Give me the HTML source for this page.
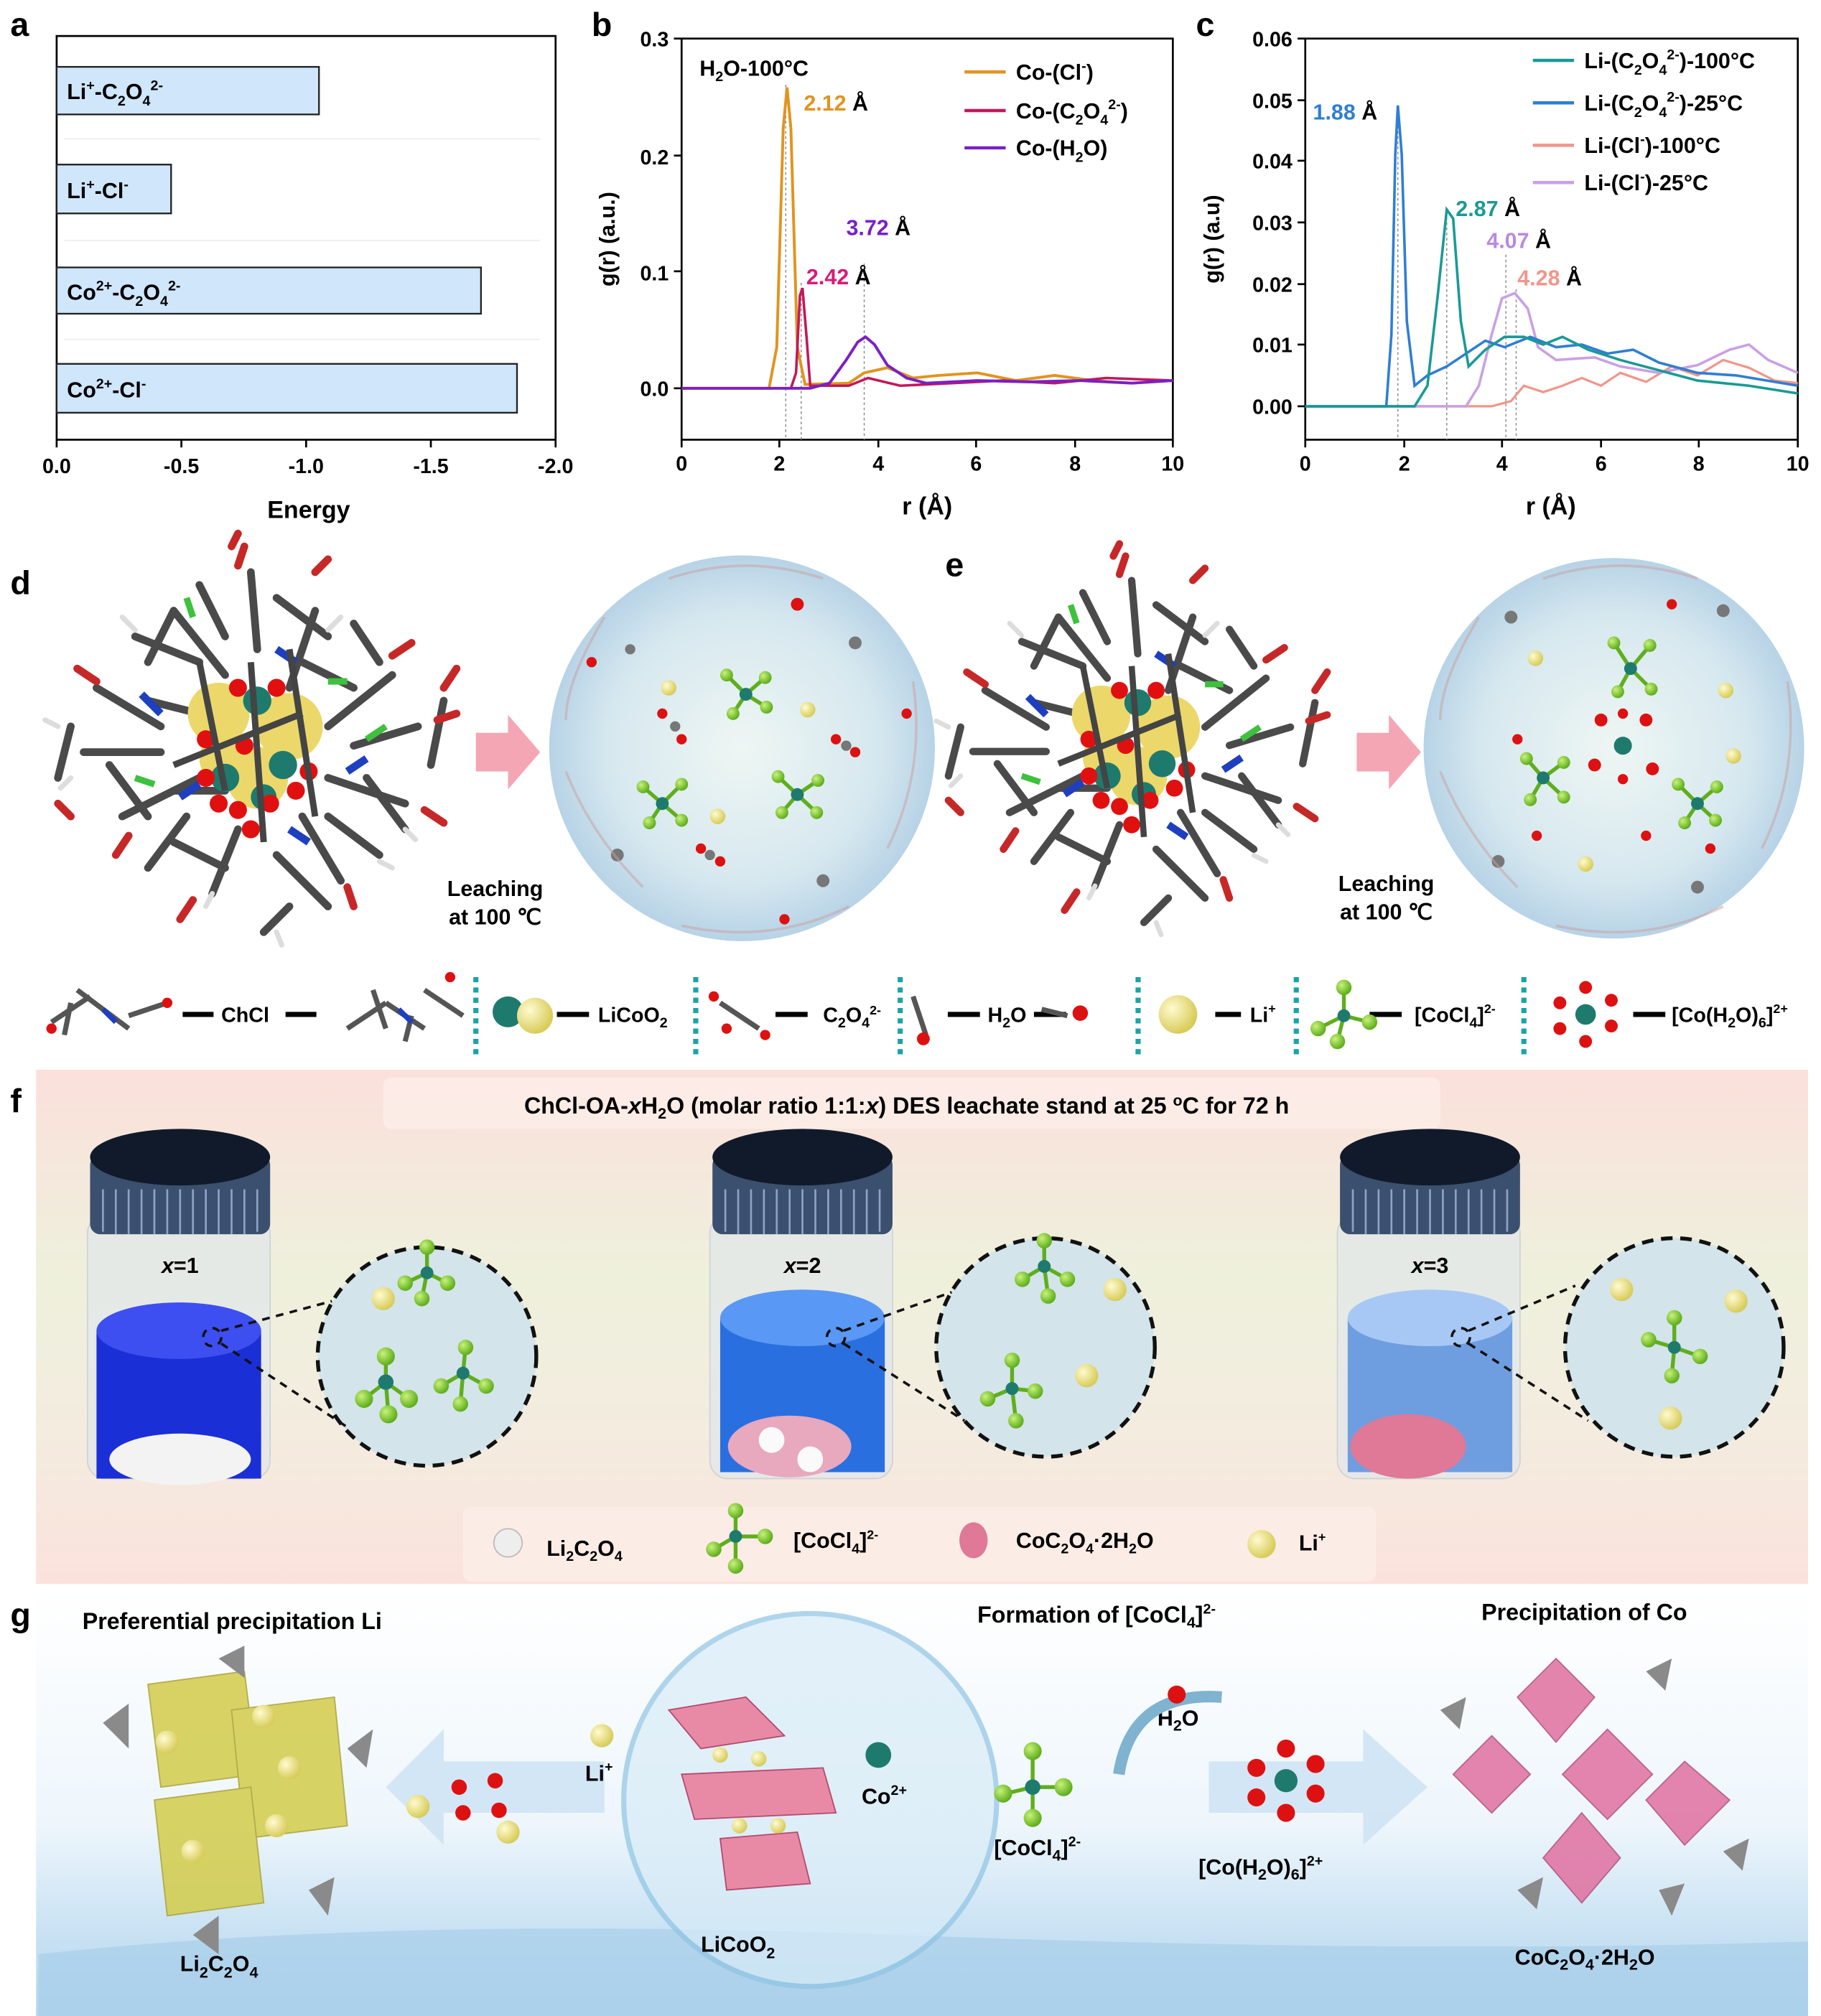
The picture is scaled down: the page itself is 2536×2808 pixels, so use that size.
<!DOCTYPE html>
<html><head><meta charset="utf-8"><style>
html,body{margin:0;padding:0;background:#fff}
svg{display:block}
text{font-family:"Liberation Sans",Arial,sans-serif;font-weight:bold}
</style></head><body>
<svg width="2536" height="2808" viewBox="0 0 1416 1568" xmlns="http://www.w3.org/2000/svg">
<defs>
<radialGradient id="bub" cx="50%" cy="50%" r="50%"><stop offset="0" stop-color="#eef6f3"/><stop offset="0.7" stop-color="#d6e8ef"/><stop offset="1" stop-color="#b7d3e6"/></radialGradient>
<linearGradient id="fbg" x1="0" y1="0" x2="0" y2="1"><stop offset="0" stop-color="#fbe0db"/><stop offset="0.4" stop-color="#eef0dc"/><stop offset="0.7" stop-color="#f3ecdf"/><stop offset="1" stop-color="#fbe2dc"/></linearGradient>
<linearGradient id="gbg" x1="0" y1="0" x2="0" y2="1"><stop offset="0" stop-color="#ffffff"/><stop offset="0.55" stop-color="#eef6fc"/><stop offset="0.8" stop-color="#c9e2f3"/><stop offset="1" stop-color="#b3d5ee"/></linearGradient>
<radialGradient id="ball" cx="35%" cy="35%" r="65%"><stop offset="0" stop-color="#fffbd0"/><stop offset="1" stop-color="#d8cc5a"/></radialGradient>
<radialGradient id="green" cx="35%" cy="35%" r="65%"><stop offset="0" stop-color="#c8f27a"/><stop offset="1" stop-color="#5fae1c"/></radialGradient>
<g id="clus">
<g stroke="#4a4a4a" stroke-width="6" stroke-linecap="round">
<path d="M-120,-40 L-70,-10 M-100,60 L-40,30 M-60,-100 L-20,-50 M50,-100 L30,-40 M110,-50 L60,-10 M120,50 L60,30 M70,110 L40,60 M-30,120 L-10,70 M-130,10 L-70,10 M0,-130 L5,-70 M130,-10 L80,5 M-80,100 L-50,60"/>
<path d="M-90,-80 L-40,-60 M-80,-60 L-60,-100 M20,-110 L60,-80 M80,-90 L100,-60 M-110,20 L-80,60 M90,30 L120,70 M-60,80 L-20,100 M20,90 L60,130 M-40,-20 L-80,-30 M40,-60 L80,-40 M60,60 L100,90 M-20,40 L-60,40 M-140,-10 L-150,30 M140,20 L150,-30 M-20,-80 L-40,-120 M30,130 L10,150"/>
</g>
<g stroke="#ddd" stroke-width="4" stroke-linecap="round"><path d="M-90,-85 L-100,-95 M-120,-45 L-130,-50 M60,-85 L70,-95 M120,70 L128,78 M-140,30 L-148,38 M20,150 L24,160 M-30,120 L-35,130 M100,95 L110,100 M-150,-10 L-160,-15"/></g>
<g stroke="#c62828" stroke-width="6" stroke-linecap="round"><path d="M-135,-55 L-120,-45 M-95,75 L-105,90 M110,-65 L125,-75 M135,55 L150,65 M75,115 L80,130 M-45,125 L-55,140 M-10,-135 L-5,-150 M145,-15 L160,-20 M-15,-150 L-10,-160 M-150,50 L-140,60 M150,-40 L160,-55 M50,-130 L60,-140"/></g>
<g stroke="#1e3fbf" stroke-width="6"><path d="M-85,-35 L-70,-20 M75,25 L90,15 M-55,45 L-40,35 M20,-70 L35,-60 M30,70 L45,80"/></g>
<g stroke="#3ec13e" stroke-width="5"><path d="M-50,-110 L-45,-95 M60,-45 L75,-45 M90,0 L105,-10 M-90,30 L-75,35"/></g>
<circle cx="-25" cy="-20" r="24" fill="#ecd86a"/><circle cx="30" cy="-10" r="26" fill="#ecd86a"/><circle cx="5" cy="30" r="24" fill="#ecd86a"/><circle cx="-20" cy="15" r="20" fill="#ecd86a"/>
<circle cx="5" cy="-30" r="11" fill="#1f7a6e"/><circle cx="-20" cy="30" r="11" fill="#1f7a6e"/><circle cx="25" cy="20" r="11" fill="#1f7a6e"/><circle cx="10" cy="45" r="10" fill="#1f7a6e"/>
<g fill="#e01010"><circle cx="-35" cy="0" r="7"/><circle cx="-5" cy="5" r="7"/><circle cx="15" cy="50" r="7"/><circle cx="-10" cy="55" r="7"/><circle cx="45" cy="25" r="7"/><circle cx="-35" cy="30" r="7"/><circle cx="20" cy="-40" r="7"/><circle cx="-10" cy="-40" r="7"/><circle cx="35" cy="40" r="7"/><circle cx="-25" cy="50" r="7"/><circle cx="0" cy="70" r="7"/></g>
<g stroke="#444" stroke-width="5"><path d="M-40,-60 L-20,40 M30,-70 L50,60 M-60,20 L40,-20 M0,-60 L10,80"/></g>
</g>
</defs>

<!-- Panel a -->
<text x="8" y="28" font-size="26">a</text>
<rect x="44" y="28" width="388" height="314" fill="none" stroke="#000" stroke-width="1.5"/>
<g stroke="#222" stroke-width="1.3" fill="#cfe6fb">
<rect x="44" y="52" width="204" height="37"/>
<rect x="44" y="128" width="89" height="38"/>
<rect x="44" y="208" width="330" height="36"/>
<rect x="44" y="283" width="358" height="38"/>
</g>
<g stroke="#eee" stroke-width="1"><line x1="50" y1="108" x2="420" y2="108"/><line x1="50" y1="187" x2="420" y2="187"/><line x1="50" y1="264" x2="420" y2="264"/></g>
<g font-size="17">
<text x="52" y="77">Li<tspan font-size="11" dy="-7">+</tspan><tspan dy="7">-C</tspan><tspan font-size="11" dy="5">2</tspan><tspan dy="-5">O</tspan><tspan font-size="11" dy="5">4</tspan><tspan font-size="11" dy="-12">2-</tspan></text>
<text x="52" y="154">Li<tspan font-size="11" dy="-7">+</tspan><tspan dy="7">-Cl</tspan><tspan font-size="11" dy="-7">-</tspan></text>
<text x="52" y="233">Co<tspan font-size="11" dy="-7">2+</tspan><tspan dy="7">-C</tspan><tspan font-size="11" dy="5">2</tspan><tspan dy="-5">O</tspan><tspan font-size="11" dy="5">4</tspan><tspan font-size="11" dy="-12">2-</tspan></text>
<text x="52" y="309">Co<tspan font-size="11" dy="-7">2+</tspan><tspan dy="7">-Cl</tspan><tspan font-size="11" dy="-7">-</tspan></text>
</g>
<g stroke="#000" stroke-width="1.5"><line x1="44" y1="342" x2="44" y2="348"/><line x1="141" y1="342" x2="141" y2="348"/><line x1="238" y1="342" x2="238" y2="348"/><line x1="335" y1="342" x2="335" y2="348"/><line x1="432" y1="342" x2="432" y2="348"/></g>
<g font-size="16" text-anchor="middle"><text x="44" y="368">0.0</text><text x="141" y="368">-0.5</text><text x="238" y="368">-1.0</text><text x="335" y="368">-1.5</text><text x="432" y="368">-2.0</text>
<text x="240" y="403" font-size="19">Energy</text></g>

<!-- Panel b -->
<text x="460" y="28" font-size="26">b</text>
<rect x="530" y="30" width="382" height="312" fill="none" stroke="#000" stroke-width="1.5"/>
<g font-size="16" text-anchor="end"><text x="520" y="36">0.3</text><text x="520" y="128">0.2</text><text x="520" y="218">0.1</text><text x="520" y="308">0.0</text></g>
<g stroke="#000" stroke-width="1.5"><line x1="524" y1="30" x2="530" y2="30"/><line x1="524" y1="121" x2="530" y2="121"/><line x1="524" y1="211" x2="530" y2="211"/><line x1="524" y1="302" x2="530" y2="302"/>
<line x1="530" y1="342" x2="530" y2="348"/><line x1="606" y1="342" x2="606" y2="348"/><line x1="683" y1="342" x2="683" y2="348"/><line x1="759" y1="342" x2="759" y2="348"/><line x1="836" y1="342" x2="836" y2="348"/><line x1="912" y1="342" x2="912" y2="348"/></g>
<g font-size="16" text-anchor="middle"><text x="530" y="366">0</text><text x="606" y="366">2</text><text x="683" y="366">4</text><text x="759" y="366">6</text><text x="836" y="366">8</text><text x="912" y="366">10</text>
<text x="721" y="400" font-size="19">r (Å)</text></g>
<text transform="translate(478,186) rotate(-90)" font-size="17" text-anchor="middle">g(r) (a.u.)</text>
<g stroke="#888" stroke-width="0.8" stroke-dasharray="2,2"><line x1="611" y1="66" x2="611" y2="342"/><line x1="623" y1="220" x2="623" y2="342"/><line x1="672" y1="205" x2="672" y2="342"/></g>
<path d="M530,302 L598,302 L604,270 L609,100 L612,68 L615,100 L620,270 L626,299 L660,298 L672,290 L690,286 L710,294 L730,292 L760,290 L790,296 L820,292 L850,296 L880,298 L912,296" fill="none" stroke="#e09420" stroke-width="2.2"/>
<path d="M530,302 L615,302 L619,290 L622,230 L624,224 L627,260 L630,300 L660,300 L675,294 L700,300 L740,298 L780,296 L820,298 L860,294 L912,296" fill="none" stroke="#c2185b" stroke-width="2"/>
<path d="M530,302 L630,302 L645,298 L658,280 L667,266 L673,262 L680,268 L690,284 L705,294 L720,298 L760,296 L800,297 L840,296 L880,298 L912,296" fill="none" stroke="#7b1fc4" stroke-width="2.2"/>
<text x="544" y="59" font-size="17">H<tspan font-size="11" dy="4">2</tspan><tspan dy="-4">O-100°C</tspan></text>
<text x="625" y="86" font-size="17" fill="#e09420">2.12 <tspan fill="#000">Å</tspan></text>
<text x="627" y="221" font-size="17" fill="#d81b78">2.42 <tspan fill="#000">Å</tspan></text>
<text x="658" y="183" font-size="17" fill="#7b1fc4">3.72 <tspan fill="#000">Å</tspan></text>
<g stroke-width="2.5"><line x1="750" y1="56" x2="782" y2="56" stroke="#e09420"/><line x1="750" y1="86" x2="782" y2="86" stroke="#c2185b"/><line x1="750" y1="115" x2="782" y2="115" stroke="#7b1fc4"/></g>
<g font-size="17"><text x="790" y="62">Co-(Cl<tspan font-size="11" dy="-7">-</tspan><tspan dy="7">)</tspan></text>
<text x="790" y="92">Co-(C<tspan font-size="11" dy="5">2</tspan><tspan dy="-5">O</tspan><tspan font-size="11" dy="5">4</tspan><tspan font-size="11" dy="-12">2-</tspan><tspan dy="7">)</tspan></text>
<text x="790" y="121">Co-(H<tspan font-size="11" dy="5">2</tspan><tspan dy="-5">O)</tspan></text></g>

<!-- Panel c -->
<text x="930" y="28" font-size="26">c</text>
<rect x="1015" y="30" width="383" height="312" fill="none" stroke="#000" stroke-width="1.5"/>
<g font-size="16" text-anchor="end"><text x="1005" y="36">0.06</text><text x="1005" y="84">0.05</text><text x="1005" y="131">0.04</text><text x="1005" y="179">0.03</text><text x="1005" y="227">0.02</text><text x="1005" y="274">0.01</text><text x="1005" y="322">0.00</text></g>
<g stroke="#000" stroke-width="1.5"><line x1="1009" y1="30" x2="1015" y2="30"/><line x1="1009" y1="78" x2="1015" y2="78"/><line x1="1009" y1="125" x2="1015" y2="125"/><line x1="1009" y1="173" x2="1015" y2="173"/><line x1="1009" y1="221" x2="1015" y2="221"/><line x1="1009" y1="268" x2="1015" y2="268"/><line x1="1009" y1="316" x2="1015" y2="316"/>
<line x1="1015" y1="342" x2="1015" y2="348"/><line x1="1092" y1="342" x2="1092" y2="348"/><line x1="1168" y1="342" x2="1168" y2="348"/><line x1="1245" y1="342" x2="1245" y2="348"/><line x1="1321" y1="342" x2="1321" y2="348"/><line x1="1398" y1="342" x2="1398" y2="348"/></g>
<g font-size="16" text-anchor="middle"><text x="1015" y="366">0</text><text x="1092" y="366">2</text><text x="1168" y="366">4</text><text x="1245" y="366">6</text><text x="1321" y="366">8</text><text x="1398" y="366">10</text>
<text x="1206" y="400" font-size="19">r (Å)</text></g>
<text transform="translate(948,186) rotate(-90)" font-size="17" text-anchor="middle">g(r) (a.u)</text>
<g stroke="#888" stroke-width="0.8" stroke-dasharray="2,2"><line x1="1087" y1="82" x2="1087" y2="342"/><line x1="1125" y1="165" x2="1125" y2="342"/><line x1="1171" y1="198" x2="1171" y2="342"/><line x1="1179" y1="225" x2="1179" y2="342"/></g>
<path d="M1015,316 L1160,316 L1175,312 L1185,300 L1200,305 L1215,300 L1230,294 L1245,300 L1260,290 L1280,297 L1300,285 L1320,292 L1340,280 L1360,286 L1380,296 L1398,298" fill="none" stroke="#f0968a" stroke-width="1.8"/>
<path d="M1015,316 L1140,316 L1150,300 L1160,260 L1168,232 L1178,228 L1188,240 L1196,270 L1210,280 L1240,278 L1260,285 L1290,290 L1320,284 L1345,272 L1360,268 L1375,280 L1398,290" fill="none" stroke="#c9a0e6" stroke-width="2"/>
<path d="M1015,316 L1078,316 L1082,260 L1085,120 L1087,82 L1090,120 L1094,250 L1100,300 L1110,292 L1125,285 L1140,275 L1155,265 L1170,270 L1190,262 L1210,270 L1230,268 L1250,275 L1270,272 L1290,282 L1320,290 L1350,292 L1398,300" fill="none" stroke="#2f7ed4" stroke-width="2"/>
<path d="M1015,316 L1100,316 L1110,300 L1118,230 L1125,163 L1130,170 L1136,250 L1142,285 L1155,272 L1170,262 L1185,262 L1200,268 L1215,262 L1235,272 L1260,280 L1290,288 L1320,296 L1360,300 L1398,306" fill="none" stroke="#1a9a96" stroke-width="2"/>
<text x="1021" y="93" font-size="17" fill="#2f7ed4">1.88 <tspan fill="#000">Å</tspan></text>
<text x="1132" y="168" font-size="17" fill="#1a9a96">2.87 <tspan fill="#000">Å</tspan></text>
<text x="1156" y="193" font-size="17" fill="#b98ae0">4.07 <tspan fill="#000">Å</tspan></text>
<text x="1180" y="222" font-size="17" fill="#f0968a">4.28 <tspan fill="#000">Å</tspan></text>
<g stroke-width="2.5"><line x1="1192" y1="47" x2="1224" y2="47" stroke="#1a9a96"/><line x1="1192" y1="80" x2="1224" y2="80" stroke="#2f7ed4"/><line x1="1192" y1="113" x2="1224" y2="113" stroke="#f0968a"/><line x1="1192" y1="142" x2="1224" y2="142" stroke="#c9a0e6"/></g>
<g font-size="17"><text x="1232" y="53">Li-(C<tspan font-size="11" dy="5">2</tspan><tspan dy="-5">O</tspan><tspan font-size="11" dy="5">4</tspan><tspan font-size="11" dy="-12">2-</tspan><tspan dy="7">)-100°C</tspan></text>
<text x="1232" y="86">Li-(C<tspan font-size="11" dy="5">2</tspan><tspan dy="-5">O</tspan><tspan font-size="11" dy="5">4</tspan><tspan font-size="11" dy="-12">2-</tspan><tspan dy="7">)-25°C</tspan></text>
<text x="1232" y="119">Li-(Cl<tspan font-size="11" dy="-7">-</tspan><tspan dy="7">)-100°C</tspan></text>
<text x="1232" y="148">Li-(Cl<tspan font-size="11" dy="-7">-</tspan><tspan dy="7">)-25°C</tspan></text></g>

<!-- Panel d / e -->
<text x="8" y="462" font-size="26">d</text>
<text x="735" y="448" font-size="26">e</text>
<use href="#clus" transform="translate(195,575)"/>
<use href="#clus" transform="translate(880,575) scale(0.95)"/>
<path d="M370,570 L395,570 L395,556 L420,585 L395,614 L395,600 L370,600 Z" fill="#f4a6b4"/>
<text x="385" y="697" font-size="17" text-anchor="middle">Leaching</text><text x="385" y="719" font-size="17" text-anchor="middle">at 100 ℃</text>
<circle cx="577" cy="582" r="150" fill="url(#bub)"/>
<g fill="url(#ball)"><circle cx="520" cy="535" r="6"/><circle cx="628" cy="552" r="6"/><circle cx="558" cy="635" r="6"/></g>
<g stroke="#5fae1c" stroke-width="3"><path d="M580,540 L565,525 M580,540 L595,527 M580,540 L570,555 M580,540 L596,550 M515,625 L500,612 M515,625 L530,610 M515,625 L505,640 M515,625 L530,638 M620,618 L605,604 M620,618 L636,607 M620,618 L608,632 M620,618 L635,632"/></g>
<g fill="url(#green)"><circle cx="565" cy="525" r="5"/><circle cx="595" cy="527" r="5"/><circle cx="570" cy="555" r="5"/><circle cx="596" cy="550" r="5"/><circle cx="500" cy="612" r="5"/><circle cx="530" cy="610" r="5"/><circle cx="505" cy="640" r="5"/><circle cx="530" cy="638" r="5"/><circle cx="605" cy="604" r="5"/><circle cx="636" cy="607" r="5"/><circle cx="608" cy="632" r="5"/><circle cx="635" cy="632" r="5"/></g>
<g fill="#1f7a6e"><circle cx="580" cy="540" r="5"/><circle cx="515" cy="625" r="5"/><circle cx="620" cy="618" r="5"/></g>
<g fill="#d11"><circle cx="515" cy="555" r="4"/><circle cx="530" cy="575" r="4"/><circle cx="650" cy="575" r="4"/><circle cx="665" cy="585" r="4"/><circle cx="545" cy="660" r="4"/><circle cx="560" cy="670" r="4"/><circle cx="620" cy="470" r="5"/><circle cx="460" cy="515" r="4"/><circle cx="705" cy="555" r="4"/><circle cx="610" cy="715" r="4"/></g>
<g fill="#777"><circle cx="525" cy="565" r="4"/><circle cx="658" cy="580" r="4"/><circle cx="552" cy="665" r="4"/><circle cx="665" cy="500" r="5"/><circle cx="480" cy="665" r="5"/><circle cx="640" cy="685" r="5"/><circle cx="490" cy="505" r="4"/></g>
<g stroke="#c9a0a0" stroke-width="2" fill="none" opacity="0.5"><path d="M440,600 Q460,650 500,690 M530,720 Q600,735 660,705 M690,660 Q720,600 710,530 M640,450 Q580,430 520,450 M470,480 Q440,530 440,560"/></g>

<path d="M1055,570 L1080,570 L1080,556 L1105,585 L1080,614 L1080,600 L1055,600 Z" fill="#f4a6b4"/>
<text x="1078" y="693" font-size="17" text-anchor="middle">Leaching</text><text x="1078" y="715" font-size="17" text-anchor="middle">at 100 ℃</text>
<circle cx="1255" cy="582" r="148" fill="url(#bub)"/>
<g fill="url(#ball)"><circle cx="1194" cy="512" r="6"/><circle cx="1342" cy="537" r="6"/><circle cx="1348" cy="588" r="6"/><circle cx="1233" cy="672" r="6"/></g>
<g stroke="#5fae1c" stroke-width="3"><path d="M1268,520 L1255,500 M1268,520 L1283,502 M1268,520 L1258,538 M1268,520 L1284,536 M1200,605 L1187,590 M1200,605 L1216,593 M1200,605 L1190,622 M1200,605 L1216,620 M1320,625 L1305,610 M1320,625 L1335,612 M1320,625 L1310,640 M1320,625 L1334,638"/></g>
<g fill="url(#green)"><circle cx="1255" cy="500" r="5"/><circle cx="1283" cy="502" r="5"/><circle cx="1258" cy="538" r="5"/><circle cx="1284" cy="536" r="5"/><circle cx="1187" cy="590" r="5"/><circle cx="1216" cy="593" r="5"/><circle cx="1190" cy="622" r="5"/><circle cx="1216" cy="620" r="5"/><circle cx="1305" cy="610" r="5"/><circle cx="1335" cy="612" r="5"/><circle cx="1310" cy="640" r="5"/><circle cx="1334" cy="638" r="5"/></g>
<g fill="#1f7a6e"><circle cx="1268" cy="520" r="5"/><circle cx="1200" cy="605" r="5"/><circle cx="1320" cy="625" r="5"/><circle cx="1262" cy="580" r="7"/></g>
<g fill="#d11"><circle cx="1245" cy="560" r="5"/><circle cx="1280" cy="560" r="5"/><circle cx="1240" cy="595" r="5"/><circle cx="1285" cy="598" r="5"/><circle cx="1262" cy="555" r="4"/><circle cx="1262" cy="606" r="4"/><circle cx="1180" cy="575" r="4"/><circle cx="1280" cy="650" r="4"/><circle cx="1195" cy="650" r="4"/><circle cx="1330" cy="660" r="4"/><circle cx="1300" cy="470" r="4"/></g>
<g fill="#777"><circle cx="1175" cy="480" r="5"/><circle cx="1340" cy="475" r="5"/><circle cx="1165" cy="670" r="5"/><circle cx="1320" cy="690" r="5"/></g>
<g stroke="#c9a0a0" stroke-width="2" fill="none" opacity="0.5"><path d="M1120,600 Q1140,650 1180,690 M1210,720 Q1280,735 1340,705 M1370,660 Q1400,600 1390,530 M1320,450 Q1260,430 1200,450 M1150,480 Q1120,530 1120,560"/></g>

<!-- legend row d/e -->
<g stroke="#000" stroke-width="4"><line x1="142" y1="789" x2="166" y2="789"/><line x1="222" y1="789" x2="246" y2="789"/><line x1="433" y1="789" x2="458" y2="789"/><line x1="603" y1="789" x2="628" y2="789"/><line x1="737" y1="789" x2="762" y2="789"/><line x1="804" y1="789" x2="829" y2="789"/><line x1="945" y1="789" x2="965" y2="789"/><line x1="1065" y1="789" x2="1090" y2="789"/><line x1="1270" y1="789" x2="1295" y2="789"/></g>
<g stroke="#1aa3a8" stroke-width="4" stroke-dasharray="4,4"><line x1="370" y1="760" x2="370" y2="820"/><line x1="541" y1="760" x2="541" y2="820"/><line x1="700" y1="760" x2="700" y2="820"/><line x1="885" y1="760" x2="885" y2="820"/><line x1="1008" y1="760" x2="1008" y2="820"/><line x1="1185" y1="760" x2="1185" y2="820"/></g>
<g stroke="#555" stroke-width="4"><path d="M40,795 L70,775 M60,770 L100,800 M100,790 L130,780 M270,800 L300,780 M300,780 L330,800 M330,770 L360,790 M560,780 L590,800 M710,775 L720,805 M810,785 L830,790 M55,780 L50,805 M290,770 L300,800 M320,790 L315,810"/></g>
<g stroke="#1e3fbf" stroke-width="4"><path d="M80,785 L90,795 M310,785 L320,795"/></g>
<g fill="#d11"><circle cx="40" cy="800" r="4"/><circle cx="130" cy="780" r="4"/><circle cx="350" cy="760" r="4"/><circle cx="555" cy="775" r="4"/><circle cx="595" cy="805" r="4"/><circle cx="565" cy="800" r="4"/><circle cx="718" cy="808" r="5"/><circle cx="840" cy="788" r="6"/></g>
<circle cx="395" cy="787" r="12" fill="#1f7a6e"/><circle cx="416" cy="790" r="14" fill="url(#ball)"/>
<circle cx="916" cy="789" r="15" fill="url(#ball)"/>
<g stroke="#5fae1c" stroke-width="3"><path d="M1045,790 L1045,768 M1045,790 L1025,800 M1045,790 L1065,795 M1045,790 L1040,810"/></g>
<g fill="url(#green)"><circle cx="1045" cy="768" r="6"/><circle cx="1025" cy="800" r="6"/><circle cx="1065" cy="795" r="6"/><circle cx="1040" cy="810" r="6"/></g><circle cx="1045" cy="790" r="5" fill="#1f7a6e"/>
<circle cx="1233" cy="789" r="8" fill="#1f7a6e"/>
<g fill="#d11"><circle cx="1233" cy="768" r="5"/><circle cx="1233" cy="810" r="5"/><circle cx="1213" cy="780" r="5"/><circle cx="1253" cy="798" r="5"/><circle cx="1213" cy="800" r="5"/><circle cx="1253" cy="778" r="5"/></g>
<g font-size="16"><text x="172" y="795">ChCl</text><text x="465" y="795">LiCoO<tspan font-size="11" dy="4">2</tspan></text>
<text x="640" y="795">C<tspan font-size="11" dy="4">2</tspan><tspan dy="-4">O</tspan><tspan font-size="11" dy="4">4</tspan><tspan font-size="10" dy="-10">2-</tspan></text>
<text x="768" y="795">H<tspan font-size="11" dy="4">2</tspan><tspan dy="-4">O</tspan></text>
<text x="972" y="795">Li<tspan font-size="10" dy="-7">+</tspan></text>
<text x="1100" y="795">[CoCl<tspan font-size="11" dy="4">4</tspan><tspan dy="-4">]</tspan><tspan font-size="10" dy="-7">2-</tspan></text>
<text x="1300" y="795">[Co(H<tspan font-size="11" dy="4">2</tspan><tspan dy="-4">O)</tspan><tspan font-size="11" dy="4">6</tspan><tspan dy="-4">]</tspan><tspan font-size="10" dy="-7">2+</tspan></text></g>

<!-- Panel f -->
<text x="8" y="865" font-size="26">f</text>
<rect x="28" y="832" width="1378" height="400" fill="url(#fbg)"/>
<rect x="298" y="838" width="822" height="40" rx="6" fill="#fdeee9" opacity="0.8"/>
<text x="705" y="866" font-size="18" text-anchor="middle">ChCl-OA-<tspan font-style="italic">x</tspan>H<tspan font-size="12" dy="4">2</tspan><tspan dy="-4">O (molar ratio 1:1:</tspan><tspan font-style="italic">x</tspan>) DES leachate stand at 25 <tspan font-size="12" dy="-6">o</tspan><tspan dy="6">C for 72 h</tspan></text>
<rect x="360" y="1172" width="710" height="58" rx="6" fill="#fdeee9" opacity="0.8"/>
<g>
<rect x="68" y="945" width="142" height="205" rx="14" fill="#dfe6ee" opacity="0.6" stroke="#b8c4d0"/>
<rect x="70" y="898" width="140" height="62" rx="8" fill="#3b4f6e"/><g stroke="#8da3c4" stroke-width="1.5"><path d="M80,925 V958 M90,925 V960 M100,925 V960 M110,925 V960 M120,925 V960 M130,925 V960 M140,925 V960 M150,925 V960 M160,925 V960 M170,925 V960 M180,925 V960 M190,925 V960 M200,925 V958"/></g><ellipse cx="140" cy="900" rx="70" ry="22" fill="#111a2a"/>
<rect x="75" y="1035" width="128" height="115" fill="#1a2fd6"/><ellipse cx="139" cy="1035" rx="64" ry="22" fill="#3d4ff0"/>
<ellipse cx="140" cy="1135" rx="55" ry="20" fill="#f3f3f3"/>
<text x="140" y="990" font-size="17" text-anchor="middle"><tspan font-style="italic">x</tspan>=1</text>
<rect x="552" y="945" width="142" height="205" rx="14" fill="#dfe6ee" opacity="0.6" stroke="#b8c4d0"/>
<rect x="554" y="898" width="140" height="62" rx="8" fill="#3b4f6e"/><g stroke="#8da3c4" stroke-width="1.5"><path d="M564,925 V958 M574,925 V960 M584,925 V960 M594,925 V960 M604,925 V960 M614,925 V960 M624,925 V960 M634,925 V960 M644,925 V960 M654,925 V960 M664,925 V960 M674,925 V960 M684,925 V958"/></g><ellipse cx="624" cy="900" rx="70" ry="22" fill="#111a2a"/>
<rect x="560" y="1025" width="128" height="120" fill="#2a6fe0"/><ellipse cx="624" cy="1025" rx="64" ry="22" fill="#5a98f5"/>
<ellipse cx="614" cy="1125" rx="48" ry="24" fill="#e8a8bd"/><circle cx="600" cy="1120" r="10" fill="#fafafa"/><circle cx="630" cy="1135" r="10" fill="#fafafa"/>
<text x="624" y="990" font-size="17" text-anchor="middle"><tspan font-style="italic">x</tspan>=2</text>
<rect x="1040" y="945" width="142" height="205" rx="14" fill="#dfe6ee" opacity="0.6" stroke="#b8c4d0"/>
<rect x="1042" y="898" width="140" height="62" rx="8" fill="#3b4f6e"/><g stroke="#8da3c4" stroke-width="1.5"><path d="M1052,925 V958 M1062,925 V960 M1072,925 V960 M1082,925 V960 M1092,925 V960 M1102,925 V960 M1112,925 V960 M1122,925 V960 M1132,925 V960 M1142,925 V960 M1152,925 V960 M1162,925 V960 M1172,925 V958"/></g><ellipse cx="1112" cy="900" rx="70" ry="22" fill="#111a2a"/>
<rect x="1048" y="1025" width="128" height="120" fill="#6f9ee0"/><ellipse cx="1112" cy="1025" rx="64" ry="22" fill="#a7c8f5"/>
<ellipse cx="1095" cy="1125" rx="45" ry="25" fill="#e07898"/>
<text x="1112" y="990" font-size="17" text-anchor="middle"><tspan font-style="italic">x</tspan>=3</text>
</g>
<g fill="#d3e4ea" stroke="#111" stroke-width="3" stroke-dasharray="9,6">
<circle cx="332" cy="1055" r="85"/><circle cx="813" cy="1048" r="85"/><circle cx="1302" cy="1048" r="85"/></g>
<g stroke="#111" stroke-width="2" stroke-dasharray="6,5" fill="none">
<path d="M172,1035 L258,1012 M172,1045 L270,1110"/><path d="M656,1035 L740,1005 M656,1045 L750,1105"/><path d="M1142,1035 L1225,1000 M1142,1045 L1235,1105"/>
<circle cx="165" cy="1040" r="7"/><circle cx="650" cy="1040" r="7"/><circle cx="1136" cy="1040" r="7"/></g>
<g fill="url(#ball)"><circle cx="298" cy="1010" r="9"/><circle cx="867" cy="1003" r="9"/><circle cx="845" cy="1070" r="9"/><circle cx="1261" cy="1003" r="9"/><circle cx="1350" cy="1012" r="9"/><circle cx="1299" cy="1103" r="9"/><circle cx="981" cy="1201" r="11"/></g>
<g stroke="#5fae1c" stroke-width="3">
<path d="M332,990 L332,970 M332,990 L315,998 M332,990 L348,998 M332,990 L328,1010 M300,1075 L300,1055 M300,1075 L283,1088 M300,1075 L318,1088 M300,1075 L302,1100 M360,1068 L362,1048 M360,1068 L343,1078 M360,1068 L378,1078 M360,1068 L358,1092 M812,985 L812,965 M812,985 L795,995 M812,985 L830,995 M812,985 L815,1008 M787,1080 L787,1058 M787,1080 L768,1088 M787,1080 L805,1082 M787,1080 L790,1105 M1302,1048 L1302,1025 M1302,1048 L1282,1042 M1302,1048 L1322,1055 M1302,1048 L1300,1070 M572,1195 L572,1175 M572,1195 L555,1205 M572,1195 L595,1195 M572,1195 L572,1218"/></g>
<g fill="url(#green)"><circle cx="332" cy="970" r="6"/><circle cx="315" cy="998" r="6"/><circle cx="348" cy="998" r="6"/><circle cx="328" cy="1010" r="6"/><circle cx="300" cy="1055" r="7"/><circle cx="283" cy="1088" r="7"/><circle cx="318" cy="1088" r="7"/><circle cx="302" cy="1100" r="7"/><circle cx="362" cy="1048" r="6"/><circle cx="343" cy="1078" r="6"/><circle cx="378" cy="1078" r="6"/><circle cx="358" cy="1092" r="6"/><circle cx="812" cy="965" r="6"/><circle cx="795" cy="995" r="6"/><circle cx="830" cy="995" r="6"/><circle cx="815" cy="1008" r="6"/><circle cx="787" cy="1058" r="6"/><circle cx="768" cy="1088" r="6"/><circle cx="805" cy="1082" r="6"/><circle cx="790" cy="1105" r="6"/><circle cx="1302" cy="1025" r="6"/><circle cx="1282" cy="1042" r="6"/><circle cx="1322" cy="1055" r="6"/><circle cx="1300" cy="1070" r="6"/><circle cx="572" cy="1175" r="6"/><circle cx="555" cy="1205" r="6"/><circle cx="595" cy="1195" r="6"/><circle cx="572" cy="1218" r="6"/></g>
<g fill="#1f7a6e"><circle cx="332" cy="990" r="5"/><circle cx="300" cy="1075" r="6"/><circle cx="360" cy="1068" r="5"/><circle cx="812" cy="985" r="5"/><circle cx="787" cy="1080" r="5"/><circle cx="1302" cy="1048" r="5"/><circle cx="572" cy="1195" r="5"/></g>
<circle cx="395" cy="1200" r="11" fill="#eee" stroke="#bbb"/><ellipse cx="757" cy="1198" rx="11" ry="14" fill="#e07898"/>
<g font-size="17"><text x="425" y="1210">Li<tspan font-size="11" dy="4">2</tspan><tspan dy="-4">C</tspan><tspan font-size="11" dy="4">2</tspan><tspan dy="-4">O</tspan><tspan font-size="11" dy="4">4</tspan></text>
<text x="617" y="1204">[CoCl<tspan font-size="11" dy="4">4</tspan><tspan dy="-4">]</tspan><tspan font-size="10" dy="-7">2-</tspan></text>
<text x="790" y="1204">CoC<tspan font-size="11" dy="4">2</tspan><tspan dy="-4">O</tspan><tspan font-size="11" dy="4">4</tspan><tspan dy="-4">·2H</tspan><tspan font-size="11" dy="4">2</tspan><tspan dy="-4">O</tspan></text>
<text x="1010" y="1206">Li<tspan font-size="10" dy="-7">+</tspan></text></g>

<!-- Panel g -->
<rect x="28" y="1236" width="1378" height="332" fill="url(#gbg)"/>
<text x="8" y="1265" font-size="26">g</text>
<path d="M30,1520 Q300,1490 700,1505 T1406,1510 L1406,1568 L30,1568 Z" fill="#a8cfe9" opacity="0.7"/>
<g font-size="18"><text x="64" y="1267">Preferential precipitation Li</text><text x="760" y="1262">Formation of [CoCl<tspan font-size="12" dy="4">4</tspan><tspan dy="-4">]</tspan><tspan font-size="11" dy="-7">2-</tspan></text><text x="1152" y="1260">Precipitation of Co</text></g>
<path d="M300,1390 L345,1345 L345,1370 L470,1370 L470,1410 L345,1410 L345,1435 Z" fill="#cfe3f4" opacity="0.9"/>
<path d="M1110,1390 L1060,1345 L1060,1370 L940,1370 L940,1410 L1060,1410 L1060,1435 Z" fill="#cfe3f4" opacity="0.9"/>
<g fill="#d3cc4a" opacity="0.85" stroke="#a9a030"><path d="M115,1310 L190,1300 L200,1380 L125,1390 Z"/><path d="M180,1330 L260,1320 L270,1420 L190,1430 Z"/><path d="M120,1400 L195,1390 L205,1480 L130,1490 Z"/></g>
<g fill="url(#ball)"><circle cx="130" cy="1355" r="9"/><circle cx="205" cy="1335" r="9"/><circle cx="225" cy="1375" r="9"/><circle cx="150" cy="1440" r="9"/><circle cx="215" cy="1420" r="9"/><circle cx="325" cy="1405" r="9"/><circle cx="395" cy="1425" r="9"/><circle cx="468" cy="1350" r="9"/></g>
<g fill="#8a8a8a"><path d="M80,1340 L100,1325 L100,1360 Z"/><path d="M270,1360 L290,1345 L285,1375 Z"/><path d="M150,1505 L170,1490 L170,1520 Z"/><path d="M240,1470 L260,1460 L255,1490 Z"/><path d="M170,1290 L190,1280 L190,1305 Z"/></g>
<circle cx="630" cy="1400" r="145" fill="#d8ecf7" opacity="0.7" stroke="#8fc4e4" stroke-width="4"/>
<g fill="#e88aa6" stroke="#b34a6c"><path d="M520,1330 L580,1320 L610,1350 L545,1360 Z"/><path d="M530,1380 L640,1375 L650,1410 L540,1415 Z"/><path d="M560,1430 L620,1425 L630,1465 L565,1470 Z"/></g>
<g fill="url(#ball)"><circle cx="560" cy="1365" r="6"/><circle cx="590" cy="1368" r="6"/><circle cx="575" cy="1420" r="6"/><circle cx="605" cy="1420" r="6"/></g>
<circle cx="683" cy="1365" r="10" fill="#1f7a6e"/>
<g font-size="17"><text x="455" y="1385">Li<tspan font-size="11" dy="-7">+</tspan></text><text x="670" y="1403">Co<tspan font-size="11" dy="-7">2+</tspan></text>
<text x="545" y="1518">LiCoO<tspan font-size="12" dy="5">2</tspan></text>
<text x="140" y="1533">Li<tspan font-size="12" dy="5">2</tspan><tspan dy="-5">C</tspan><tspan font-size="12" dy="5">2</tspan><tspan dy="-5">O</tspan><tspan font-size="12" dy="5">4</tspan></text>
<text x="773" y="1443">[CoCl<tspan font-size="12" dy="4">4</tspan><tspan dy="-4">]</tspan><tspan font-size="11" dy="-7">2-</tspan></text>
<text x="932" y="1458">[Co(H<tspan font-size="12" dy="4">2</tspan><tspan dy="-4">O)</tspan><tspan font-size="12" dy="4">6</tspan><tspan dy="-4">]</tspan><tspan font-size="11" dy="-7">2+</tspan></text>
<text x="900" y="1342">H<tspan font-size="12" dy="4">2</tspan><tspan dy="-4">O</tspan></text>
<text x="1178" y="1528">CoC<tspan font-size="12" dy="4">2</tspan><tspan dy="-4">O</tspan><tspan font-size="12" dy="4">4</tspan><tspan dy="-4">·2H</tspan><tspan font-size="12" dy="4">2</tspan><tspan dy="-4">O</tspan></text></g>
<path d="M870,1380 Q880,1315 950,1320" fill="none" stroke="#7fb3cf" stroke-width="9"/>
<g stroke="#5fae1c" stroke-width="3"><path d="M803,1390 L803,1365 M803,1390 L782,1395 M803,1390 L825,1390 M803,1390 L803,1412"/></g>
<g fill="url(#green)"><circle cx="803" cy="1362" r="7"/><circle cx="780" cy="1395" r="7"/><circle cx="827" cy="1390" r="7"/><circle cx="803" cy="1414" r="7"/></g><circle cx="803" cy="1390" r="6" fill="#1f7a6e"/>
<circle cx="1000" cy="1385" r="9" fill="#1f7a6e"/>
<g fill="#d11"><circle cx="1000" cy="1360" r="7"/><circle cx="1000" cy="1410" r="7"/><circle cx="977" cy="1375" r="7"/><circle cx="1023" cy="1395" r="7"/><circle cx="977" cy="1398" r="7"/><circle cx="1023" cy="1372" r="7"/><circle cx="915" cy="1318" r="7"/><circle cx="357" cy="1390" r="6"/><circle cx="385" cy="1385" r="6"/><circle cx="360" cy="1410" r="6"/><circle cx="388" cy="1408" r="6"/></g>
<g fill="#e070a0" opacity="0.85" stroke="#b04a7a"><path d="M1210,1290 L1240,1320 L1210,1355 L1180,1320 Z"/><path d="M1250,1345 L1285,1380 L1250,1415 L1215,1380 Z"/><path d="M1160,1350 L1190,1380 L1160,1410 L1130,1380 Z"/><path d="M1310,1370 L1345,1400 L1310,1435 L1280,1400 Z"/><path d="M1230,1410 L1260,1445 L1230,1480 L1200,1445 Z"/></g>
<g fill="#8a8a8a"><path d="M1120,1330 L1140,1320 L1135,1345 Z"/><path d="M1280,1300 L1300,1290 L1295,1315 Z"/><path d="M1340,1440 L1360,1430 L1355,1455 Z"/><path d="M1180,1470 L1200,1460 L1195,1485 Z"/><path d="M1290,1470 L1310,1465 L1300,1490 Z"/></g>
</svg>
</body></html>
